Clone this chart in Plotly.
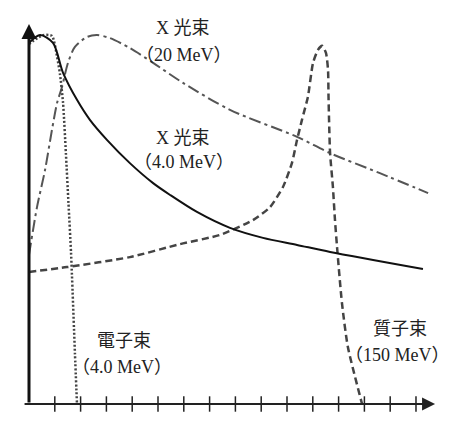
import plotly.graph_objects as go

# Tiefe (Skalenstriche) und relative Dosis
x_xray4 = [0, 0.43, 0.93, 1.32, 1.86, 2.36, 3.02, 3.91, 4.81, 5.47, 6.51, 7.79, 9.07,
           10.39, 11.67, 15.27]
y_xray4 = [97.6, 99.7, 97.6, 89.5, 82.2, 76.8, 71.4, 65.1, 59.7, 56.5, 51.9, 47.6, 44.9,
           43.0, 41.1, 36.5]

x_elec = [0, 0.54, 0.89, 1.09, 1.2, 1.32, 1.43, 1.53, 1.63, 1.78, 1.86]
y_elec = [97.3, 99.7, 99.5, 93.8, 89.2, 81.4, 67.8, 54.3, 40.8, 13.8, 0]

x_xray20 = [0, 0.31, 0.62, 0.89, 1.09, 1.28, 1.51, 1.78, 2.25, 2.64, 3.14, 3.91, 4.81,
            5.97, 7.79, 10.39, 11.67, 13.60, 15.47]
y_xray20 = [40.3, 53.2, 63.2, 74.1, 81.4, 85.7, 92.2, 96.5, 99.2, 99.7, 98.9, 96.2, 92.2,
            86.8, 79.5, 72.2, 67.8, 62.4, 57.0]

x_proton = [0, 1.47, 3.91, 5.85, 7.40, 8.68, 9.34, 9.84, 10.19, 10.39, 10.58, 10.81,
            11.01, 11.20, 11.36, 11.51, 11.59, 11.61, 11.63, 11.67, 11.78, 11.86, 11.94,
            12.13, 12.36, 12.91]
y_proton = [35.7, 37.0, 39.7, 43.2, 45.7, 49.7, 53.2, 58.6, 65.1, 71.4, 76.8, 83.0,
            92.2, 95.7, 96.8, 94.9, 90.3, 83.0, 76.8, 67.8, 58.6, 49.7, 42.4,
            27.3, 15.4, 0]

tick_x = list(range(1, 16))

fig = go.Figure()

fig.add_trace(go.Scatter(x=x_xray20, y=y_xray20, mode="lines", line_shape="spline",
                         line=dict(color="#555555", width=2, dash="12px,4px,3px,4px",
                                   smoothing=0.8)))
fig.add_trace(go.Scatter(x=x_proton, y=y_proton, mode="lines", line_shape="spline",
                         line=dict(color="#444444", width=2.5, dash="7px,4px", smoothing=0.6)))
fig.add_trace(go.Scatter(x=x_elec, y=y_elec, mode="lines", line_shape="spline",
                         line=dict(color="#444444", width=2.5, dash="2px,2px", smoothing=0.6)))
fig.add_trace(go.Scatter(x=x_xray4, y=y_xray4, mode="lines", line_shape="spline",
                         line=dict(color="#111111", width=2, smoothing=0.8)))

# Skalenstriche auf der x-Achse
fig.add_trace(go.Scatter(x=tick_x, y=[0] * len(tick_x), mode="markers",
                         marker=dict(symbol="line-ns-open", size=11, color="#222222",
                                     line=dict(color="#222222", width=1.5))))

# Achsen mit Pfeilen
fig.add_annotation(x=0, y=102.7, ax=0, ay=0, xref="x", yref="y", axref="x", ayref="y",
                   showarrow=True, arrowhead=2, arrowsize=1, arrowwidth=3, arrowcolor="#111111",
                   text="")
fig.add_annotation(x=15.74, y=0, ax=-0.23, ay=0, xref="x", yref="y", axref="x", ayref="y",
                   showarrow=True, arrowhead=2, arrowsize=1.3, arrowwidth=2, arrowcolor="#222222",
                   text="")

labels = [
    ("X 光束", 5.97, 101.6),
    ("（20 MeV）", 6.0, 94.3),
    ("X 光束", 5.97, 71.9),
    ("（4.0 MeV）", 6.0, 65.4),
    ("電子束", 3.68, 17.0),
    ("（4.0 MeV）", 3.6, 10.0),
    ("質子束", 14.38, 20.3),
    ("（150 MeV）", 14.3, 13.2),
]
for txt, lx, ly in labels:
    fig.add_annotation(x=lx, y=ly, xref="x", yref="y", text=txt, showarrow=False,
                       font=dict(family="Liberation Serif, Noto Sans CJK TC", size=18,
                                 color="#222222"))

# Seite hat 8px Rand, deshalb Achsenbereiche verschoben
fig.update_layout(
    width=459,
    height=432,
    autosize=False,
    margin=dict(l=0, r=0, t=0, b=0),
    paper_bgcolor="white",
    plot_bgcolor="white",
    showlegend=False,
    xaxis=dict(visible=False, range=[-0.814, 16.977]),
    yaxis=dict(visible=False, range=[-9.73, 107.03]),
)

fig.write_html("out.html")
